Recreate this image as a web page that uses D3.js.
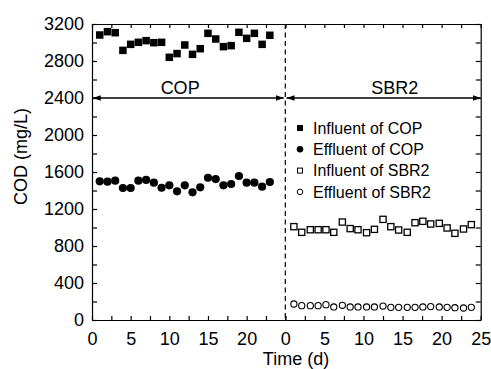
<!DOCTYPE html>
<html>
<head>
<meta charset="utf-8">
<script src="https://cdn.jsdelivr.net/npm/d3@7"></script>
<style>
  body { margin: 0; background: #fff; }
  svg text { font-family: "Liberation Sans", Arial, sans-serif; fill: #000; }
</style>
</head>
<body>
<script>
// Данные.
const copDays = [1, 2, 3, 4, 5, 6, 7, 8, 9, 10, 11, 12, 13, 14, 15, 16, 17, 18, 19, 20, 21, 22, 23];
const copInfluent = [3081, 3117, 3106, 2915, 2980, 3002, 3020, 2998, 3002, 2840, 2880, 2973, 2872, 2933,
                     3099, 3038, 2955, 2966, 3110, 3045, 3099, 2980, 3078];
const copEffluent = [1499, 1495, 1506, 1427, 1427, 1506, 1514, 1485, 1430, 1456, 1391, 1456, 1380, 1434,
                     1538, 1524, 1456, 1470, 1557, 1485, 1485, 1441, 1492];
const sbrDays = [1.1, 2.1, 3.2, 4.2, 5.2, 6.2, 7.3, 8.3, 9.3, 10.4, 11.4, 12.5, 13.5, 14.5, 15.6, 16.6,
                 17.6, 18.6, 19.7, 20.7, 21.7, 22.8, 23.8];
const sbrInfluent = [1009, 948, 976, 976, 976, 948, 1059, 988, 976, 944, 980, 1088, 1009, 973,
                     948, 1052, 1067, 1038, 1045, 995, 937, 984, 1031];
const sbrEffluent = [173, 155, 155, 155, 166, 141, 159, 141, 141, 141, 141, 151, 137, 137,
                     137, 137, 141, 145, 141, 137, 133, 130, 137];
const legendLabels = ["Influent of COP", "Effluent of COP", "Influent of SBR2", "Effluent of SBR2"];
const panelLabels = ["COP", "SBR2"];
const yTicks = d3.range(0, 3201, 200);
const xTicks = d3.range(0, 25.01, 2.5);

const width = 491, height = 369;
const font = "Liberation Sans, Arial, sans-serif";

const svg = d3.select("body").append("svg")
  .attr("width", width)
  .attr("height", height);

// Масштабы: две панели с общей осью y.
const y = d3.scaleLinear().domain([0, 3200]).range([320, 24]);
const xL = d3.scaleLinear().domain([0, 25]).range([92, 285.3]);
const xR = d3.scaleLinear().domain([0, 25]).range([285.3, 480.7]);

function styleAxis(g) {
  g.selectAll("path, line").attr("stroke", "#000").attr("stroke-width", 1.2);
  g.selectAll("text").attr("font-size", 18).attr("font-family", font).attr("fill", "#000");
}

// Нижние оси.
svg.append("g").attr("transform", "translate(0,320)")
  .call(d3.axisBottom(xL).tickValues(xTicks).tickSizeInner(-4).tickSizeOuter(0).tickPadding(12)
    .tickFormat(d => (d % 5 === 0 && d < 25) ? d : ""))
  .call(styleAxis);
svg.append("g").attr("transform", "translate(0,320)")
  .call(d3.axisBottom(xR).tickValues(xTicks).tickSizeInner(-4).tickSizeOuter(0).tickPadding(12)
    .tickFormat(d => d % 5 === 0 ? d : ""))
  .call(styleAxis);

// Верхние оси (без подписей).
svg.append("g").attr("transform", "translate(0,24)")
  .call(d3.axisTop(xL).tickValues(xTicks).tickSizeInner(-4).tickSizeOuter(0).tickFormat(""))
  .call(styleAxis);
svg.append("g").attr("transform", "translate(0,24)")
  .call(d3.axisTop(xR).tickValues(xTicks).tickSizeInner(-4).tickSizeOuter(0).tickFormat(""))
  .call(styleAxis);

// Левая и правая оси y.
svg.append("g").attr("transform", "translate(92,0)")
  .call(d3.axisLeft(y).tickValues(yTicks).tickSizeInner(-5).tickSizeOuter(0).tickPadding(8)
    .tickFormat(d => d % 400 === 0 ? d : ""))
  .call(styleAxis);
svg.append("g").attr("transform", "translate(480.7,0)")
  .call(d3.axisRight(y).tickValues(yTicks).tickSizeInner(-5).tickSizeOuter(0).tickFormat(""))
  .call(styleAxis);

// Пунктирный разделитель.
svg.append("line")
  .attr("x1", xL(25)).attr("x2", xL(25))
  .attr("y1", y(3200)).attr("y2", y(0))
  .attr("stroke", "#000").attr("stroke-width", 1.2)
  .attr("stroke-dasharray", "5,3.5");

// Стрелки.
const defs = svg.append("defs");
defs.append("marker").attr("id", "arrEnd")
  .attr("markerUnits", "userSpaceOnUse").attr("markerWidth", 10).attr("markerHeight", 10)
  .attr("viewBox", "0 -5 10 10").attr("refX", 8).attr("refY", 0).attr("orient", "auto")
  .append("path").attr("d", "M0,-2.8L8,0L0,2.8Z").attr("fill", "#000");
defs.append("marker").attr("id", "arrStart")
  .attr("markerUnits", "userSpaceOnUse").attr("markerWidth", 10).attr("markerHeight", 10)
  .attr("viewBox", "0 -5 10 10").attr("refX", 0).attr("refY", 0).attr("orient", "auto")
  .append("path").attr("d", "M8,-2.8L0,0L8,2.8Z").attr("fill", "#000");

[[xL, 0.1, 24.8], [xR, 0.15, 25]].forEach(([sc, a, b]) => {
  svg.append("line")
    .attr("x1", sc(a)).attr("x2", sc(b))
    .attr("y1", y(2400)).attr("y2", y(2400))
    .attr("stroke", "#000").attr("stroke-width", 1.4)
    .attr("marker-start", "url(#arrStart)").attr("marker-end", "url(#arrEnd)");
});

svg.append("text").attr("x", xL(11.4)).attr("y", y(2400) - 4.5)
  .attr("text-anchor", "middle").attr("font-size", 18).text(panelLabels[0]);
svg.append("text").attr("x", xR(14)).attr("y", y(2400) - 4.5)
  .attr("text-anchor", "middle").attr("font-size", 18).text(panelLabels[1]);

// Точки данных.
const pts = svg.append("g");
function squares(xs, ys, sc, size, filled) {
  pts.selectAll(null).data(xs.map((d, i) => [d, ys[i]])).enter().append("rect")
    .attr("x", d => sc(d[0]) - size / 2).attr("y", d => y(d[1]) - size / 2)
    .attr("width", size).attr("height", size)
    .attr("fill", filled ? "#000" : "#fff")
    .attr("stroke", "#000").attr("stroke-width", filled ? 0 : 1.3);
}
function circles(xs, ys, sc, r, filled) {
  pts.selectAll(null).data(xs.map((d, i) => [d, ys[i]])).enter().append("circle")
    .attr("cx", d => sc(d[0])).attr("cy", d => y(d[1])).attr("r", r)
    .attr("fill", filled ? "#000" : "#fff")
    .attr("stroke", "#000").attr("stroke-width", filled ? 0 : 1.1);
}
squares(copDays, copInfluent, xL, 7.5, true);
circles(copDays, copEffluent, xL, 4.1, true);
squares(sbrDays, sbrInfluent, xR, 6.2, false);
circles(sbrDays, sbrEffluent, xR, 3.1, false);

// Легенда.
const legend = svg.append("g").attr("transform", "translate(300,128)");
legendLabels.forEach((lab, i) => {
  const row = legend.append("g").attr("transform", `translate(0,${i * 21.3})`);
  if (i === 0) row.append("rect").attr("x", -3).attr("y", -3).attr("width", 6).attr("height", 6).attr("fill", "#000");
  if (i === 1) row.append("circle").attr("r", 3.3).attr("fill", "#000");
  if (i === 2) row.append("rect").attr("x", -2.5).attr("y", -2.5).attr("width", 5).attr("height", 5)
    .attr("fill", "#fff").attr("stroke", "#000").attr("stroke-width", 1);
  if (i === 3) row.append("circle").attr("r", 2.8).attr("fill", "#fff").attr("stroke", "#000").attr("stroke-width", 1);
  row.append("text").attr("x", 13).attr("y", 5.7).attr("font-size", 16).text(lab);
});

// Подписи осей.
svg.append("text").attr("x", 296).attr("y", 364.5)
  .attr("text-anchor", "middle").attr("font-size", 18).text("Time (d)");
svg.append("text").attr("transform", "translate(26.5,156.5) rotate(-90)")
  .attr("text-anchor", "middle").attr("font-size", 18).text("COD (mg/L)");
</script>
</body>
</html>
